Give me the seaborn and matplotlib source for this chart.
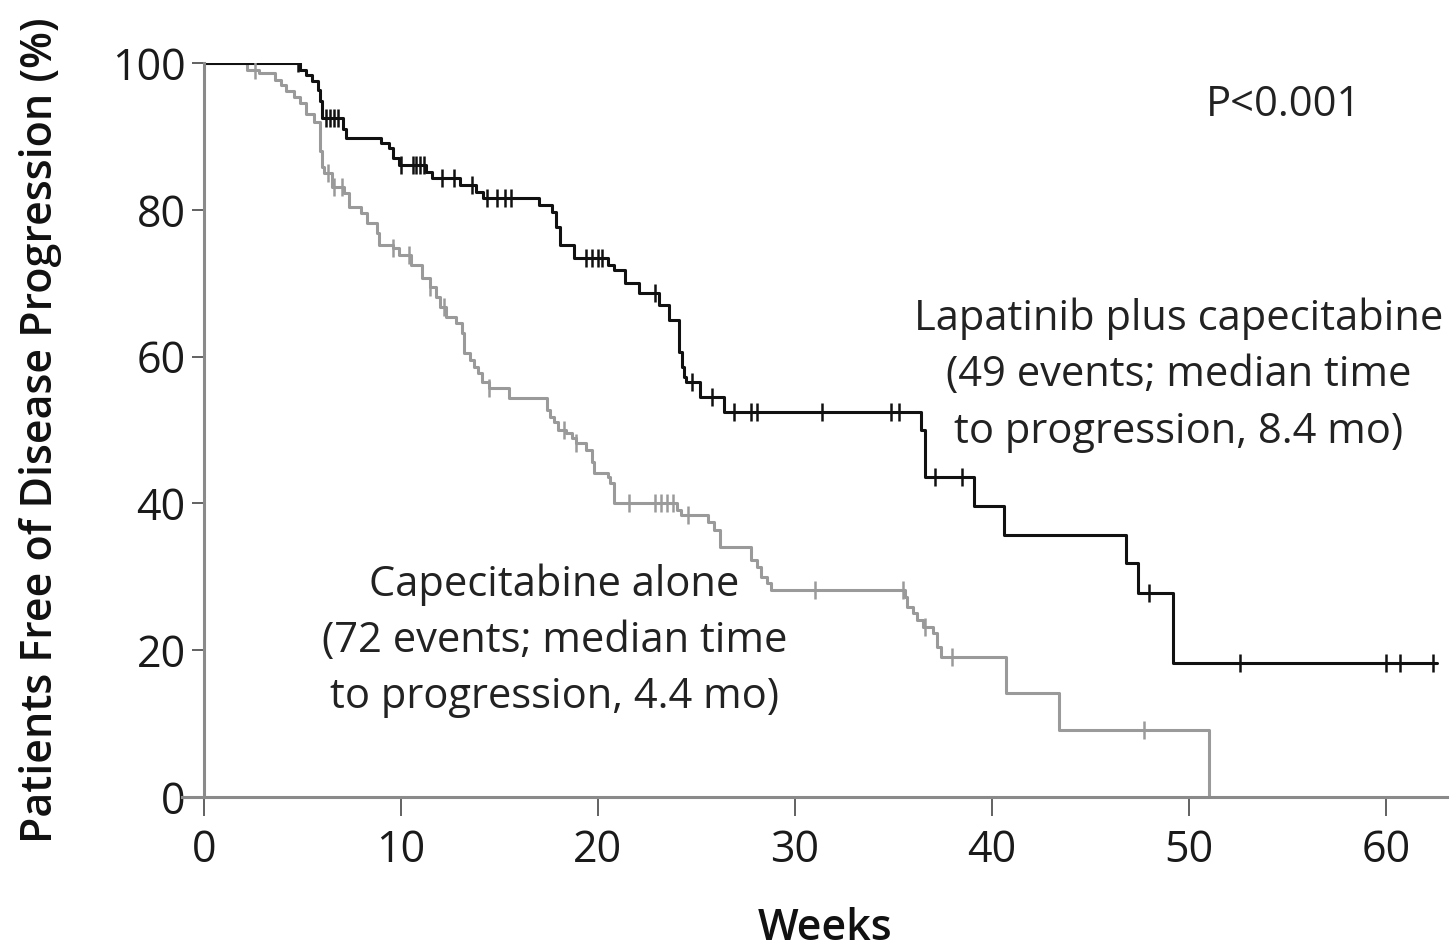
import numpy as np
import pandas as pd
import matplotlib
matplotlib.use("Agg")
import matplotlib.pyplot as plt
import seaborn as sns

# Kaplan-Meier steps (weeks, % free of progression)
lap_weeks = [0, 4.9, 5.2, 5.5, 5.8, 5.9, 6.0, 7.05, 7.2, 9.0,
             9.4, 9.6, 9.9, 11.3, 11.6, 13.0, 13.8, 14.2, 17.0, 17.7,
             17.9, 18.1, 18.8, 20.5, 20.8, 21.4, 22.1, 23.1, 23.6, 24.1,
             24.3, 24.4, 24.5, 25.2, 26.4, 36.4, 36.6, 39.1, 40.6, 46.8,
             47.4, 49.2, 62.6]
lap_pct = [100, 99.0, 98.4, 97.5, 96.3, 94.8, 92.5, 91.0, 89.8, 89.1,
           88.4, 87.1, 86.1, 85.1, 84.3, 83.4, 82.4, 81.6, 80.6, 79.7,
           77.7, 75.2, 73.4, 72.5, 71.8, 70.0, 68.7, 67.0, 65.0, 60.6,
           58.6, 57.2, 56.5, 54.5, 52.5, 50.0, 43.6, 39.6, 35.7, 31.9,
           27.8, 18.3, 18.3]
lap_censored = [4.8, 6.2, 6.4, 6.6, 6.8, 10.0, 10.6, 10.8, 11.0, 11.2,
                12.1, 12.7, 13.6, 14.4, 14.9, 15.3, 15.6, 19.4, 19.7, 20.0,
                20.2, 22.9, 24.8, 25.8, 26.9, 27.8, 28.1, 31.4, 34.9, 35.3,
                37.1, 38.5, 48.0, 52.6, 60.0, 60.7, 62.4]

cap_weeks = [0, 2.2, 2.8, 3.6, 3.9, 4.2, 4.6, 4.9, 5.2, 5.6,
             5.9, 6.0, 6.1, 6.5, 7.1, 7.4, 8.0, 8.3, 8.8, 8.9,
             9.6, 9.9, 10.5, 11.1, 11.5, 11.8, 12.0, 12.3, 12.8, 13.1,
             13.2, 13.5, 13.7, 13.9, 14.1, 14.5, 15.5, 17.4, 17.6, 17.8,
             18.0, 18.4, 18.7, 18.9, 19.4, 19.7, 19.8, 20.5, 20.6, 20.8,
             24.0, 24.2, 25.6, 25.9, 26.2, 27.8, 28.1, 28.3, 28.6, 28.8,
             35.6, 35.7, 36.0, 36.2, 36.5, 37.0, 37.2, 37.4, 40.7, 43.4,
             51.0]
cap_pct = [100, 99.0, 98.6, 97.7, 97.0, 96.2, 95.3, 94.5, 93.0, 92.0,
           88.0, 85.8, 85.0, 83.1, 82.3, 80.4, 79.6, 78.2, 76.8, 75.2,
           74.8, 73.8, 72.5, 70.7, 69.5, 68.1, 66.8, 65.4, 64.6, 63.2,
           60.5, 59.5, 58.6, 57.8, 56.5, 55.7, 54.4, 52.7, 51.8, 51.1,
           50.0, 49.6, 48.9, 48.2, 47.3, 45.6, 44.1, 43.6, 42.8, 40.0,
           39.1, 38.4, 37.5, 36.4, 34.1, 32.3, 31.3, 30.0, 29.2, 28.2,
           27.2, 25.9, 25.1, 24.1, 23.2, 22.3, 20.4, 19.1, 14.2, 9.1,
           0]
cap_censored = [2.6, 6.3, 6.6, 7.0, 9.6, 10.4, 11.5, 12.2, 14.5, 18.3,
                18.9, 21.6, 22.9, 23.2, 23.5, 23.8, 24.6, 31.0, 35.5, 36.6,
                38.0, 47.7]

x_ticks = [0, 10, 20, 30, 40, 50, 60]
y_ticks = [0, 20, 40, 60, 80, 100]


def step_value(weeks, pct, t):
    i = np.searchsorted(weeks, t, side="right") - 1
    return np.asarray(pct)[i]


sns.set_theme(style="white")
plt.rcParams["font.family"] = ["Open Sans", "DejaVu Sans"]

fig = plt.figure(figsize=(14.53, 9.51), dpi=100)
ax = fig.add_axes([182 / 1453, 1 - 797 / 951, (1447 - 182) / 1453, (797 - 63) / 951])

arms = [
    (cap_weeks, cap_pct, cap_censored, "#9a9a9a"),
    (lap_weeks, lap_pct, lap_censored, "#111111"),
]
for weeks, pct, cens, col in arms:
    df = pd.DataFrame({"week": weeks, "pct": pct})
    sns.lineplot(data=df, x="week", y="pct", ax=ax, color=col, lw=2.2,
                 drawstyle="steps-post", estimator=None, sort=False)
    cdf = pd.DataFrame({"week": cens, "pct": step_value(weeks, pct, cens)})
    sns.scatterplot(data=cdf, x="week", y="pct", ax=ax, marker="|", s=150,
                    color=col, linewidth=1.8, zorder=3)

ax.set_xlim(-1.1, 63.1)
ax.set_ylim(0, 100)
ax.spines["left"].set_position(("data", 0))
for side in ["top", "right"]:
    ax.spines[side].set_visible(False)
for side in ["left", "bottom"]:
    ax.spines[side].set_color("#8a8a8a")
    ax.spines[side].set_linewidth(2.2)
ax.spines["left"].set_bounds(0, 100)

ax.set_xticks(x_ticks)
ax.set_yticks(y_ticks)
ax.tick_params(axis="x", direction="out", length=14, width=1.3, color="#555555",
               labelsize=31, pad=9, bottom=True, labelcolor="#1a1a1a")
ax.tick_params(axis="y", direction="out", length=9, width=1.3, color="#555555",
               labelsize=31, pad=4, left=True, labelcolor="#1a1a1a")

ax.set_xlabel("Weeks", fontsize=31, fontweight="semibold", color="#111111")
ax.set_ylabel("Patients Free of Disease Progression (%)", fontsize=31,
              fontweight="semibold", color="#111111")
ax.xaxis.set_label_coords((825 - 182) / 1265, -(907 - 797) / 734)
ax.yaxis.set_label_coords((62 - 182) / 1265, 0.5)

ax.text(54.8, 94.3, "P<0.001", fontsize=30, ha="center", va="center", color="#222222")
ax.text(49.5, 57.5, "Lapatinib plus capecitabine\n(49 events; median time\nto progression, 8.4 mo)",
        fontsize=30, ha="center", va="center", linespacing=1.45, color="#222222")
ax.text(17.8, 21.3, "Capecitabine alone\n(72 events; median time\nto progression, 4.4 mo)",
        fontsize=30, ha="center", va="center", linespacing=1.45, color="#222222")

fig.savefig("out.png", dpi=100, facecolor="white")
